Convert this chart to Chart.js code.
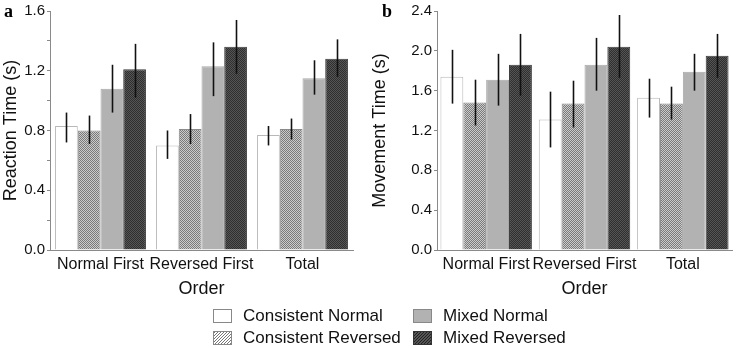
<!DOCTYPE html>
<html>
<head>
<meta charset="utf-8">
<script src="https://cdn.jsdelivr.net/npm/chart.js@4.4.1/dist/chart.umd.min.js"></script>
<style>
  html, body { margin: 0; padding: 0; background: #fff; }
  body { width: 738px; height: 348px; position: relative; overflow: hidden; font-family: "Liberation Sans", Arial, sans-serif; }
  canvas.panel { position: absolute; top: 0; }
  #legend { position: absolute; left: 0; top: 0; width: 738px; height: 348px; pointer-events: none; }
  .item { position: absolute; font-size: 17px; color: #111; line-height: 17px; white-space: nowrap; }
  .item canvas { position: absolute; left: 0; top: 0; }
  .item span { position: absolute; top: -2px; }
</style>
</head>
<body>
<canvas id="chartA" class="panel" width="369" height="300" style="left:0"></canvas>
<canvas id="chartB" class="panel" width="369" height="300" style="left:369px"></canvas>
<div id="legend"></div>
<script>
// --- DATA ---
const categories = ["Normal First", "Reversed First", "Total"];
const seriesNames = ["Consistent Normal", "Consistent Reversed", "Mixed Normal", "Mixed Reversed"];

// Reaction time (panel a)
const rtConsNormal = [0.83, 0.70, 0.77];
const rtConsReversed = [0.80, 0.81, 0.81];
const rtMixNormal = [1.08, 1.23, 1.15];
const rtMixReversed = [1.21, 1.36, 1.28];
const rtLow = [[0.72, 0.61, 0.70], [0.71, 0.71, 0.74], [0.92, 1.03, 1.04], [1.02, 1.18, 1.16]];
const rtHigh = [[0.92, 0.80, 0.83], [0.90, 0.91, 0.88], [1.24, 1.39, 1.27], [1.38, 1.54, 1.41]];

// Movement time (panel b)
const mtConsNormal = [1.74, 1.31, 1.53];
const mtConsReversed = [1.48, 1.47, 1.47];
const mtMixNormal = [1.71, 1.86, 1.79];
const mtMixReversed = [1.86, 2.04, 1.95];
const mtLow = [[1.47, 1.03, 1.33], [1.25, 1.23, 1.31], [1.45, 1.60, 1.60], [1.55, 1.73, 1.73]];
const mtHigh = [[2.01, 1.59, 1.72], [1.71, 1.70, 1.64], [1.97, 2.13, 1.97], [2.17, 2.36, 2.17]];

const FONT = "'Liberation Sans', Arial, sans-serif";
const AXIS_GREY = "#8a8a8a";

// --- PATTERNS ---
const makePattern = (cells, size) => {
  const c = document.createElement("canvas");
  c.width = size; c.height = size;
  const g = c.getContext("2d");
  cells.forEach((col, i) => {
    g.fillStyle = col;
    g.fillRect(i % size, Math.floor(i / size), 1, 1);
  });
  return g.createPattern(c, "repeat");
};
const checkerLight = makePattern(["#7a7a7a", "#cbcbcb", "#cbcbcb", "#7a7a7a"], 2);
const checkerDark = makePattern(["#2f2f2f", "#555555", "#555555", "#2f2f2f"], 2);

const fills = ["#ffffff", checkerLight, "#b2b2b2", checkerDark];
const borders = ["#b8b8b8", "#8a8a8a", "#a8a8a8", "#3a3a3a"];

// --- PLUGINS ---
const errorBars = {
  id: "errorBars",
  afterDatasetsDraw(chart, args, opts) {
    const { ctx } = chart;
    const y = chart.scales.y;
    ctx.save();
    ctx.strokeStyle = "#111";
    ctx.lineWidth = 1.6;
    chart.data.datasets.forEach((ds, i) => {
      const meta = chart.getDatasetMeta(i);
      meta.data.forEach((bar, j) => {
        ctx.beginPath();
        ctx.moveTo(Math.round(bar.x) + 0.5, y.getPixelForValue(opts.low[i][j]));
        ctx.lineTo(Math.round(bar.x) + 0.5, y.getPixelForValue(opts.high[i][j]));
        ctx.stroke();
      });
    });
    ctx.restore();
  }
};

const panelLetter = {
  id: "panelLetter",
  afterDraw(chart, args, opts) {
    const { ctx } = chart;
    ctx.save();
    ctx.fillStyle = "#000";
    ctx.font = "bold 18px 'Liberation Serif', 'Times New Roman', serif";
    ctx.textBaseline = "alphabetic";
    ctx.fillText(opts.text, opts.x, opts.y);
    ctx.restore();
  }
};

function makeChart(id, values, low, high, yTitle, yMax, axisWidth, padRight, catPct, letter, letterX) {
  return new Chart(document.getElementById(id), {
    type: "bar",
    data: {
      labels: categories,
      datasets: values.map((v, i) => ({
        label: seriesNames[i],
        data: v,
        backgroundColor: fills[i],
        borderColor: borders[i],
        borderWidth: 1
      }))
    },
    options: {
      responsive: false,
      animation: false,
      events: [],
      categoryPercentage: catPct,
      barPercentage: 1,
      layout: { padding: { top: 10, right: padRight, left: 0, bottom: 0 } },
      plugins: {
        legend: { display: false },
        tooltip: { enabled: false },
        errorBars: { low, high },
        panelLetter: { text: letter, x: letterX, y: 17 }
      },
      scales: {
        x: {
          grid: { display: true, drawOnChartArea: false, drawTicks: false, color: "rgba(0,0,0,0)" },
          border: { display: true, color: AXIS_GREY, width: 1 },
          ticks: { color: "#111", font: { family: FONT, size: 16 }, padding: 5, maxRotation: 0, autoSkip: false },
          title: { display: true, text: "Order", color: "#111", font: { family: FONT, size: 18 }, padding: { top: 0, bottom: 0 } },
          afterFit(scale) { scale.height = 50; }
        },
        y: {
          min: 0,
          max: yMax,
          grid: { display: true, drawOnChartArea: false, drawTicks: true, tickLength: 3, color: AXIS_GREY },
          border: { display: true, color: AXIS_GREY, width: 1 },
          ticks: {
            stepSize: 0.2,
            color: "#111",
            padding: 2,
            font: { family: FONT, size: 15 },
            callback: (v) => (Math.round(v * 10) % 4 === 0 ? v.toFixed(1) : "")
          },
          title: { display: true, text: yTitle, color: "#111", font: { family: FONT, size: 18 }, padding: { top: 0, bottom: 2 } },
          afterFit(scale) { scale.width = axisWidth; }
        }
      }
    },
    plugins: [errorBars, panelLetter]
  });
}

makeChart("chartA", [rtConsNormal, rtConsReversed, rtMixNormal, rtMixReversed], rtLow, rtHigh,
  "Reaction Time (s)", 1.6, 50, 16, 0.9, "a", 4);
makeChart("chartB", [mtConsNormal, mtConsReversed, mtMixNormal, mtMixReversed], mtLow, mtHigh,
  "Movement Time (s)", 2.4, 68, 6, 0.93, "b", 13);

// --- LEGEND ---
const legendPos = [
  { x: 213, y: 309 }, { x: 213, y: 331 }, { x: 413, y: 309 }, { x: 413, y: 331 }
];
const swatchFills = ["#ffffff", "hatchLight", "#b2b2b2", "hatchDark"];
const legend = document.getElementById("legend");

function drawSwatch(cv, kind, border) {
  const g = cv.getContext("2d");
  if (kind === "hatchLight" || kind === "hatchDark") {
    g.fillStyle = kind === "hatchLight" ? "#ffffff" : "#555555";
    g.fillRect(0, 0, cv.width, cv.height);
    g.strokeStyle = kind === "hatchLight" ? "#777777" : "#222222";
    g.lineWidth = 1;
    for (let k = -cv.height; k < cv.width + cv.height; k += 3) {
      g.beginPath();
      g.moveTo(k, cv.height);
      g.lineTo(k + cv.height, 0);
      g.stroke();
    }
  } else {
    g.fillStyle = kind;
    g.fillRect(0, 0, cv.width, cv.height);
  }
  g.strokeStyle = border;
  g.strokeRect(0.5, 0.5, cv.width - 1, cv.height - 1);
}

seriesNames.forEach((name, i) => {
  const item = document.createElement("div");
  item.className = "item";
  item.style.left = legendPos[i].x + "px";
  item.style.top = legendPos[i].y + "px";
  const cv = document.createElement("canvas");
  cv.width = 19; cv.height = 14;
  drawSwatch(cv, swatchFills[i], i === 3 ? "#333" : "#888");
  const label = document.createElement("span");
  label.style.left = "30px";
  label.textContent = name;
  item.appendChild(cv);
  item.appendChild(label);
  legend.appendChild(item);
});
</script>
</body>
</html>
